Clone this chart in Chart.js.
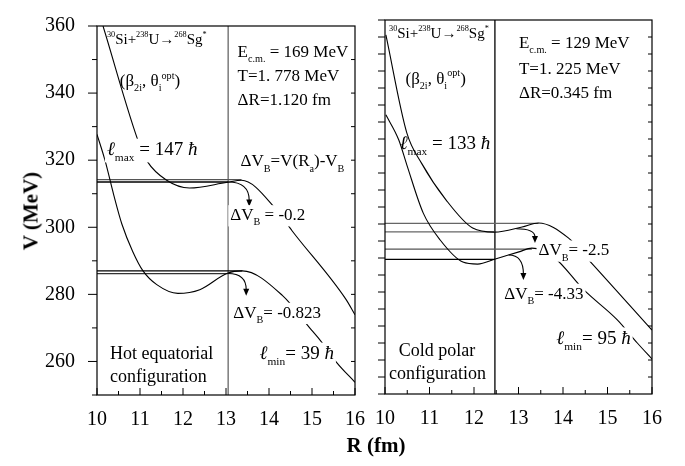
<!DOCTYPE html>
<html><head><meta charset="utf-8">
<script src="https://cdn.jsdelivr.net/npm/chart.js@4"></script>
<style>
body{margin:0;background:#fff;width:685px;height:466px;overflow:hidden;position:relative;}
canvas{position:absolute;top:0;}
#c1{left:0;}
#c2{left:370px;}
.ttl{position:absolute;font:bold 21px "Liberation Serif";color:#000;white-space:nowrap;}
#xt{left:376px;top:445px;transform:translate(-50%,-50%);}
#yt{left:31px;top:211px;transform:translate(-50%,-50%) rotate(-90deg);}
</style></head><body>
<canvas id="c1" width="370" height="466" style="width:370px;height:466px"></canvas>
<canvas id="c2" width="315" height="466" style="width:315px;height:466px"></canvas>
<div class="ttl" id="xt">R (fm)</div>
<div class="ttl" id="yt">V (MeV)</div>
<script>
// ---------- DATA ----------
const xTicks = [10, 11, 12, 13, 14, 15, 16];
const yTicks = [260, 280, 300, 320, 340, 360];

// Hot equatorial configuration (left panel)
const R_hot_max = [10.14, 11.0, 11.16, 11.62, 12.15, 13.03, 13.36, 14.17, 14.54, 15.79, 16.0];
const V_hot_max = [360, 324.2, 319.8, 314.0, 311.7, 313.4, 314.0, 305.3, 298.9, 278.5, 273.9];
const R_hot_min = [10.0, 10.19, 10.39, 10.58, 10.83, 11.07, 11.39, 11.88, 12.39, 13.03, 13.38, 14.31, 14.98, 15.21, 15.58, 16.0];
const V_hot_min = [327.7, 319.8, 309.6, 300.9, 292.8, 287.0, 282.9, 280.3, 281.4, 286.3, 287.0, 279.7, 269.5, 266.0, 259.6, 253.8];
const Ra_hot = 13.05;
const hot_VB = [314.2, 287.0];      // barrier heights
const hot_RB = [13.36, 13.38];      // barrier positions
const hot_VRa = [313.5, 286.2];     // V(Ra)

// Cold polar configuration (right panel)
const R_cold_max = [10.02, 10.49, 10.82, 11.37, 11.97, 12.46, 13.08, 13.45, 14.12, 14.56, 16.0];
const V_cold_max = [355.6, 326.8, 317.9, 307.1, 298.8, 297.6, 299.1, 300.3, 295.9, 289.7, 268.8];
const R_cold_min = [10.02, 10.31, 10.49, 10.86, 11.24, 11.75, 12.08, 12.48, 13.01, 13.30, 13.79, 14.47, 15.22, 15.67, 16.0];
const V_cold_min = [332.1, 324.7, 317.4, 303.2, 295.3, 288.8, 288.2, 289.7, 291.8, 292.9, 290.3, 280.6, 271.8, 265.0, 260.3];
const Ra_cold = 12.47;
const cold_VB = [300.2, 292.6];
const cold_RB = [13.45, 13.30];
const cold_VRa = [297.7, 289.6];

// ΔV_B arrows: [startR, startV, endR, endV]
const hot_arrows = [[13.05, 313.5, 13.54, 306.2], [13.05, 286.2, 13.47, 279.6]];
const cold_arrows = [[12.95, 298.6, 13.37, 294.4], [12.78, 290.9, 13.11, 283.5]];

// ---------- helpers ----------
const FONT = '"Liberation Serif", "DejaVu Serif", serif';
const zip = (xs, ys) => xs.map((x, i) => ({x, y: ys[i]}));
function curve(xs, ys) {
  return {data: zip(xs, ys), borderColor: '#000', borderWidth: 1.1, pointRadius: 0,
          cubicInterpolationMode: 'monotone', fill: false};
}
function hline(v, r, col) {
  return {data: [{x: 10, y: v}, {x: r, y: v}], borderColor: col, borderWidth: 1.3, pointRadius: 0, tension: 0};
}
function vline(r, col) {
  return {data: [{x: r, y: 250}, {x: r, y: 360}], borderColor: col, borderWidth: 1.3, pointRadius: 0, tension: 0};
}

function drawRich(ctx, segs, x, y, size, bg, supScale) {
  const sc = supScale || 0.6;
  let w = 0;
  const parts = segs.map(s => {
    const mode = s[1] || '';
    const small = (mode === 'b' || mode === 'p');
    const sz = small ? size * sc : size;
    const style = mode === 'i' ? 'italic ' : '';
    ctx.font = style + sz + 'px ' + FONT;
    const m = ctx.measureText(s[0]).width;
    w += m;
    return {t: s[0], mode, sz, style, m};
  });
  if (bg) { ctx.fillStyle = '#fff'; ctx.fillRect(x - 2, y - size * 0.55, w + 4, size * 1.25); }
  ctx.fillStyle = '#000';
  ctx.textBaseline = 'alphabetic';
  ctx.textAlign = 'left';
  let cx = x;
  const base = y + size * 0.33;
  for (const p of parts) {
    ctx.font = p.style + p.sz + 'px ' + FONT;
    const dy = p.mode === 'b' ? size * 0.3 : (p.mode === 'p' ? -size * 0.45 : 0);
    ctx.fillText(p.t, cx, base + dy);
    cx += p.m;
  }
}

const overlay = {
  id: 'overlay',
  afterDatasetsDraw(chart, args, opts) {
    const {ctx, chartArea: a, scales: {x, y}} = chart;
    ctx.save();
    // frame
    ctx.strokeStyle = '#000'; ctx.lineWidth = 1.2;
    ctx.strokeRect(a.left, a.top, a.right - a.left, a.bottom - a.top);
    ctx.lineWidth = 1;
    ctx.beginPath();
    // bottom ticks (inward)
    for (let r = 10; r <= 16.001; r += 0.5) {
      const px = x.getPixelForValue(r);
      const len = Math.abs(r - Math.round(r)) < 1e-6 ? 7 : 4;
      ctx.moveTo(px, a.bottom); ctx.lineTo(px, a.bottom - len);
    }
    // left ticks
    for (const t of opts.leftTicks) {
      const py = y.getPixelForValue(t[0]);
      ctx.moveTo(a.left, py); ctx.lineTo(a.left + t[1], py);
    }
    // right ticks (inward)
    for (const v of opts.rightTicks) {
      const py = y.getPixelForValue(v);
      ctx.moveTo(a.right, py); ctx.lineTo(a.right - 4, py);
    }
    ctx.stroke();
    // arrows
    ctx.lineWidth = 1.1;
    for (const ar of opts.arrows) {
      const x0 = x.getPixelForValue(ar[0]), y0 = y.getPixelForValue(ar[1]);
      const x1 = x.getPixelForValue(ar[2]), y1 = y.getPixelForValue(ar[3]);
      ctx.beginPath();
      ctx.moveTo(x0, y0);
      ctx.quadraticCurveTo(x1, y0, x1, y1 - 6);
      ctx.stroke();
      ctx.beginPath();
      ctx.moveTo(x1, y1); ctx.lineTo(x1 - 3, y1 - 7); ctx.lineTo(x1 + 3, y1 - 7); ctx.closePath();
      ctx.fillStyle = '#000'; ctx.fill();
    }
    // texts
    for (const t of opts.texts) {
      drawRich(ctx, t.segs, x.getPixelForValue(t.r), y.getPixelForValue(t.v), t.size, t.bg, t.sc);
    }
    ctx.restore();
  }
};

function makeChart(id, cfg) {
  const ds = [
    curve(cfg.Rmax, cfg.Vmax), curve(cfg.Rmin, cfg.Vmin),
    hline(cfg.VB[0], cfg.RB[0], cfg.cols[0]), hline(cfg.VRa[0], cfg.Ra, cfg.cols[1]),
    hline(cfg.VB[1], cfg.RB[1], cfg.cols[2]), hline(cfg.VRa[1], cfg.Ra, cfg.cols[3]),
    vline(cfg.Ra, cfg.vcol)
  ];
  return new Chart(document.getElementById(id), {
    type: 'line',
    data: {datasets: ds},
    plugins: [overlay],
    options: {
      responsive: false, animation: false, events: [],
      layout: {autoPadding: false, padding: cfg.pad},
      plugins: {legend: {display: false}, tooltip: {enabled: false}, overlay: cfg.overlay},
      scales: {
        x: {type: 'linear', min: 10, max: 16,
            afterBuildTicks: s => { s.ticks = xTicks.map(v => ({value: v})); },
            afterFit: s => { s.height = 71; },
            ticks: {color: '#000', font: {family: FONT, size: 20}, padding: 5, maxRotation: 0, autoSkip: false},
            grid: {display: false}, border: {display: false}},
        y: {type: 'linear', min: 250, max: 360,
            afterBuildTicks: s => { s.ticks = yTicks.map(v => ({value: v})); },
            afterFit: s => { s.width = cfg.yw; },
            ticks: {display: cfg.ylabels, color: '#000', font: {family: FONT, size: 20}, padding: 14},
            grid: {display: false}, border: {display: false}}
      }
    }
  });
}

const S = 17;
makeChart('c1', {
  Rmax: R_hot_max, Vmax: V_hot_max, Rmin: R_hot_min, Vmin: V_hot_min,
  VB: hot_VB, RB: hot_RB, VRa: hot_VRa, Ra: Ra_hot,
  cols: ['#555', '#000', '#000', '#333'], vcol: '#666',
  pad: {left: 0, top: 17, right: 14, bottom: 0}, yw: 97, ylabels: true,
  overlay: {
    leftTicks: [250, 260, 270, 280, 290, 300, 310, 320, 330, 340, 350, 360].map(v => [v, (v % 20 === 0) ? -9 : -5]),
    rightTicks: [260, 270, 280, 290, 300, 310, 320, 330, 340, 350],
    arrows: hot_arrows,
    texts: [
      {r: 10.23, v: 356.2, size: 15, sc: 0.55, segs: [['30', 'p'], ['Si+'], ['238', 'p'], ['U\u2192'], ['268', 'p'], ['Sg'], ['*', 'p']]},
      {r: 10.53, v: 343.7, size: S, segs: [['(\u03B2'], ['2i', 'b'], [', \u03B8'], ['i', 'b'], ['opt', 'p'], [')']]},
      {r: 13.27, v: 352.4, size: S, segs: [['E'], ['c.m.', 'b'], [' = 169 MeV']]},
      {r: 13.27, v: 345.2, size: S, segs: [['T=1. 778 MeV']]},
      {r: 13.27, v: 338.2, size: S, segs: [['\u0394R=1.120 fm']]},
      {r: 10.23, v: 323.3, size: 19, bg: true, segs: [['\u2113', 'i'], ['max', 'b'], [' = 147 '], ['\u0127', 'i']]},
      {r: 13.34, v: 319.8, size: S, segs: [['\u0394V'], ['B', 'b'], ['=V(R'], ['a', 'b'], [')-V'], ['B', 'b']]},
      {r: 13.10, v: 303.8, size: S, bg: true, segs: [['\u0394V'], ['B', 'b'], [' = -0.2']]},
      {r: 13.17, v: 274.7, size: S, bg: true, segs: [['\u0394V'], ['B', 'b'], ['= -0.823']]},
      {r: 10.30, v: 262.5, size: 18, segs: [['Hot equatorial']]},
      {r: 10.30, v: 255.5, size: 18, segs: [['configuration']]},
      {r: 13.78, v: 262.5, size: 19, bg: true, segs: [['\u2113', 'i'], ['min', 'b'], ['= 39 '], ['\u0127', 'i']]}
    ]
  }
});

makeChart('c2', {
  Rmax: R_cold_max, Vmax: V_cold_max, Rmin: R_cold_min, Vmin: V_cold_min,
  VB: cold_VB, RB: cold_RB, VRa: cold_VRa, Ra: Ra_cold,
  cols: ['#666', '#666', '#555', '#000'], vcol: '#000',
  pad: {left: 0, top: 20, right: 33, bottom: 1}, yw: 11, ylabels: false,
  overlay: {
    leftTicks: Array.from({length: 23}, (_, i) => [250 + 5 * i, -7]),
    rightTicks: Array.from({length: 21}, (_, i) => 255 + 5 * i),
    arrows: cold_arrows,
    texts: [
      {r: 10.09, v: 356.2, size: 15, sc: 0.55, segs: [['30', 'p'], ['Si+'], ['238', 'p'], ['U\u2192'], ['268', 'p'], ['Sg'], ['*', 'p']]},
      {r: 10.46, v: 342.9, size: S, segs: [['(\u03B2'], ['2i', 'b'], [', \u03B8'], ['i', 'b'], ['opt', 'p'], [')']]},
      {r: 13.01, v: 353.5, size: S, segs: [['E'], ['c.m.', 'b'], [' = 129 MeV']]},
      {r: 13.01, v: 345.9, size: S, segs: [['T=1. 225 MeV']]},
      {r: 13.01, v: 338.8, size: S, segs: [['\u0394R=0.345 fm']]},
      {r: 10.33, v: 323.8, size: 19, segs: [['\u2113', 'i'], ['max', 'b'], [' = 133 '], ['\u0127', 'i']]},
      {r: 13.45, v: 292.4, size: S, bg: true, segs: [['\u0394V'], ['B', 'b'], ['= -2.5']]},
      {r: 12.68, v: 279.7, size: S, bg: true, segs: [['\u0394V'], ['B', 'b'], ['= -4.33']]},
      {r: 10.31, v: 262.9, size: 18, segs: [['Cold polar']]},
      {r: 10.09, v: 256.2, size: 18, segs: [['configuration']]},
      {r: 13.85, v: 266.5, size: 19, bg: true, segs: [['\u2113', 'i'], ['min', 'b'], ['= 95 '], ['\u0127', 'i']]}
    ]
  }
});
</script>
</body></html>
